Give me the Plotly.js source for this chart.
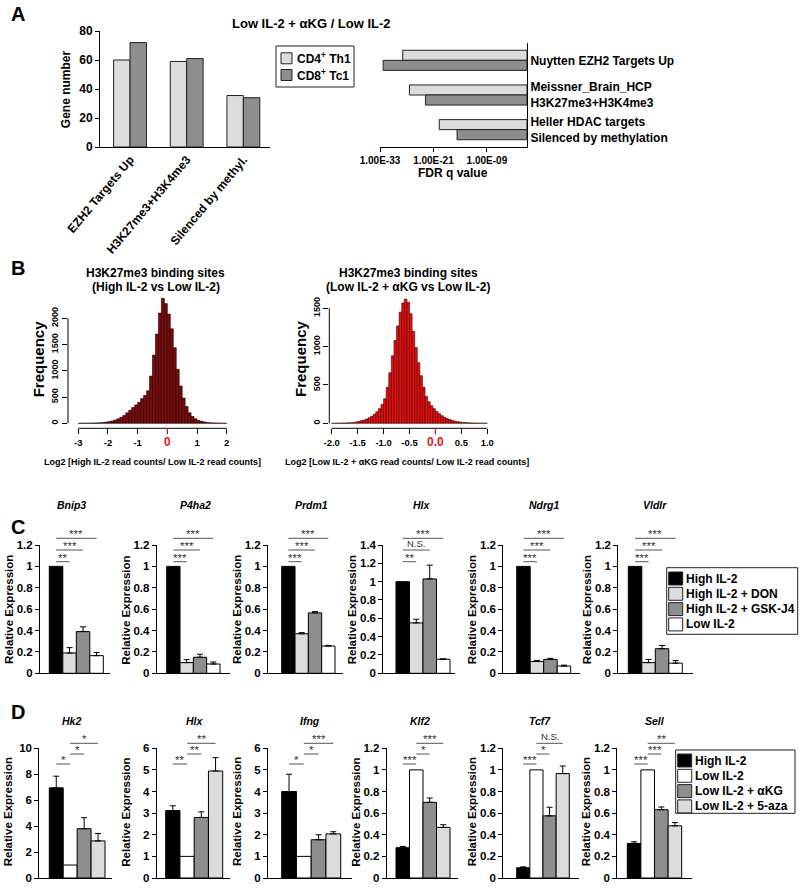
<!DOCTYPE html>
<html><head><meta charset="utf-8">
<script src="https://cdn.plot.ly/plotly-3.0.1.min.js"></script>
<style>html,body{margin:0;padding:0;background:#fff}#chart{width:800px;height:894px}</style>
</head><body><div id="chart"></div>
<script>
// ================= DATA =================
// Panel A (left): gene numbers
const geneSets = ['EZH2 Targets Up','H3K27me3+H3K4me3','Silenced by methyl.'];
const geneNumCD4 = [60, 59, 35.5];
const geneNumCD8 = [72, 61, 34];
// Panel A (right): FDR q values
const gseaSets = ['Nuytten EZH2 Targets Up','Meissner_Brain_HCP<br>H3K27me3+H3K4me3','Heller HDAC targets<br>Silenced by methylation'];
const fdrCD4 = [1.3e-28, 4e-27, 2e-20];
const fdrCD8 = [5e-33, 1.6e-23, 2e-16];
const fdrTickVals = [1e-33, 1e-21, 1e-9];
const fdrTickText = ['1.00E-33','1.00E-21','1.00E-09'];
const seriesNames = ['CD4<sup>+</sup> Th1','CD8<sup>+</sup> Tc1'];

// Panel B: histograms (bin start, bin width, counts)
const h1Start = -3.0, h1Width = 0.1;
const h1Counts = [1,1,2,3,4,6,8,11,16,23,32,45,62,85,115,150,200,250,300,350,400,470,530,620,900,1300,1700,2100,2380,2280,2080,1800,1440,1030,710,480,320,200,130,85,55,38,25,16,10,7,5,3,2,1];
const h2Start = -2.0, h2Width = 0.05;
const h2Counts = [1,1,2,2,3,4,6,8,12,18,25,33,43,56,72,92,118,150,190,245,320,470,660,880,1080,1270,1450,1570,1620,1580,1430,1200,990,790,620,470,350,280,230,190,155,125,100,80,62,48,37,28,21,16,12,9,7,5,4,3,2,2,1,1];
const h1Ticks = [-3,-2,-1,0,1,2];
const h2Ticks = [-2,-1.5,-1,-0.5,0,0.5,1];

// Panel C
const cGenes = ['Bnip3','P4ha2','Prdm1','Hlx','Ndrg1','Vldlr'];
const cConds = ['High IL-2','High IL-2 + DON','High IL-2 + GSK-J4','Low IL-2'];
const cHigh = [1,1,1,1,1,1];
const cHighErr = [0,0,0,0,0,0];
const cDON = [0.19,0.10,0.37,0.55,0.11,0.10];
const cDONErr = [0.05,0.028,0.01,0.04,0.01,0.03];
const cGSK = [0.39,0.15,0.565,1.03,0.13,0.23];
const cGSKErr = [0.045,0.028,0.012,0.15,0.01,0.03];
const cLow = [0.165,0.087,0.255,0.153,0.068,0.095];
const cLowErr = [0.03,0.019,0.006,0.005,0.008,0.025];
const cYMax = [1.2,1.2,1.2,1.4,1.2,1.2];
const cSig = [['**','***','***'],['***','***','***'],['***','***','***'],['**','N.S.','***'],['***','***','***'],['***','***','***']];
const cSigPairs = [[0,1],[0,2],[0,3]];

// Panel D
const dGenes = ['Hk2','Hlx','Ifng','Klf2','Tcf7','Sell'];
const dConds = ['High IL-2','Low IL-2','Low IL-2 + \u03b1KG','Low IL-2 + 5-aza'];
const dHigh = [6.95,3.12,4.0,0.28,0.095,0.32];
const dHighErr = [0.9,0.22,0.8,0.012,0.008,0.015];
const dLow = [1,1,1,1,1,1];
const dLowErr = [0,0,0,0,0,0];
const dAKG = [3.8,2.8,1.77,0.70,0.575,0.632];
const dAKGErr = [0.85,0.26,0.23,0.04,0.08,0.025];
const dAza = [2.86,4.95,2.04,0.468,0.966,0.483];
const dAzaErr = [0.57,0.62,0.1,0.025,0.07,0.03];
const dYMax = [10,6,6,1.2,1.2,1.2];
const dYStep = [2,1,1,0.2,0.2,0.2];
const dSig = [['*','*','*'],['**','**','**'],['*','*','***'],['***','*','***'],['***','*','N.S.'],['***','***','**']];
const dSigPairs = [[0,1],[1,2],[1,3]];

// ================= STYLE / GEOMETRY =================
const W = 800, H = 894;
const FONT = 'Liberation Sans, Arial, sans-serif';
const fx = p => p / W, fy = p => 1 - p / H;
const lin = (p0, v0, p1, v1, p) => v0 + (p - p0) * (v1 - v0) / (p1 - p0);
const LIGHT = '#dcdcdc', MID = '#8e8e8e', BLACK = '#000000', WHITE = '#ffffff';
const bfont = (size, color) => ({family: FONT, size: size, color: color || '#000', weight: 'bold'});

const traces = [];
const shapes = [];
const annotations = [];
const layout = {
  width: W, height: H, autosize: false,
  margin: {l: 0, r: 0, t: 0, b: 0, pad: 0},
  paper_bgcolor: '#fff', plot_bgcolor: 'rgba(0,0,0,0)',
  barmode: 'overlay', showlegend: false,
  font: {family: FONT, color: '#000'},
  shapes: shapes, annotations: annotations
};
function ann(x, y, text, font, extra) {
  annotations.push(Object.assign({xref: 'paper', yref: 'paper', x: fx(x), y: fy(y), text: text, showarrow: false, font: font, xanchor: 'center', yanchor: 'middle'}, extra || {}));
}
function rectPx(x0, y0, x1, y1, fill, lw) {
  shapes.push({type: 'rect', xref: 'paper', yref: 'paper', x0: fx(x0), x1: fx(x1), y0: fy(y1), y1: fy(y0),
    fillcolor: fill, line: {color: '#222', width: lw == null ? 1 : lw}, layer: 'above'});
}
// boxed legend: box [l,t,r,b], entries, first row centre, row step, square left/size, text x
function boxLegend(box, names, colors, cy0, step, sqL, sqW, sqH, textX, fsize) {
  rectPx(box[0], box[1], box[2], box[3], '#fff', 1);
  names.forEach((nm, i) => {
    const cy = cy0 + i * step;
    rectPx(sqL, cy - sqH / 2, sqL + sqW, cy + sqH / 2, colors[i], 1);
    ann(textX, cy, nm, bfont(fsize), {xanchor: 'left'});
  });
}

// Panel labels
ann(18, 14, 'A', bfont(20));
ann(18, 268, 'B', bfont(20));
ann(18, 527, 'C', bfont(20));
ann(18, 712, 'D', bfont(20));

// ---------- Panel A left ----------
const aColors = [LIGHT, MID];
[geneNumCD4, geneNumCD8].forEach((vals, k) => {
  traces.push({type: 'bar', x: geneSets, y: vals, xaxis: 'x', yaxis: 'y', name: seriesNames[k],
    offset: k === 0 ? -0.29 : 0, width: 0.29,
    marker: {color: aColors[k], line: {color: '#222', width: 1}}});
});
layout.xaxis = {domain: [fx(100), fx(270)], anchor: 'y', range: [-0.53, 2.47], showline: true, linecolor: '#000', linewidth: 1,
  ticks: '', tickangle: -50, tickfont: bfont(12), showgrid: false, zeroline: false};
layout.yaxis = {domain: [fy(147), fy(31)], anchor: 'x', range: [0, 80], tickvals: [0,20,40,60,80], ticks: 'outside', ticklen: 4,
  tickcolor: '#000', showline: true, linecolor: '#000', linewidth: 1, tickfont: bfont(12), showgrid: false, zeroline: false};
ann(66.7, 89.5, 'Gene number', bfont(12), {textangle: -90});
ann(311, 24, 'Low IL-2 + \u03b1KG / Low IL-2', bfont(13));
boxLegend([276, 46, 354, 87], seriesNames, aColors, 58.3, 16.7, 281, 11, 11, 295, 12);

// ---------- Panel A right ----------
[fdrCD4, fdrCD8].forEach((vals, k) => {
  traces.push({type: 'bar', orientation: 'h', y: gseaSets, x: vals.map(v => Math.log10(v)), xaxis: 'x2', yaxis: 'y2',
    offset: k === 0 ? -0.29 : 0, width: 0.29, name: seriesNames[k],
    marker: {color: aColors[k], line: {color: '#222', width: 1}}});
});
layout.xaxis2 = {domain: [fx(380), fx(527)], anchor: 'y2', range: [-33, 0], tickvals: fdrTickVals.map(v => Math.log10(v)), ticktext: fdrTickText,
  ticks: 'outside', ticklen: 4, tickcolor: '#000', showline: true, linecolor: '#000', tickfont: bfont(10), showgrid: false, zeroline: false};
layout.yaxis2 = {domain: [fy(147), fy(43)], anchor: 'x2', side: 'right', range: [2.5, -0.5], ticks: '', showline: true, linecolor: '#000',
  tickfont: bfont(12), showgrid: false, zeroline: false};
ann(453, 173, 'FDR q value', bfont(12));

// ---------- Panel B ----------
function hist(counts, start, width, xa, ya, color, lineColor) {
  traces.push({type: 'bar', x: counts.map((c, i) => start + (i + 0.5) * width), y: counts, width: width,
    xaxis: xa, yaxis: ya, marker: {color: color, line: {color: lineColor, width: 0.6}}});
}
hist(h1Counts, h1Start, h1Width, 'x3', 'y3', '#7d0a0a', '#1a0000');
hist(h2Counts, h2Start, h2Width, 'x4', 'y4', '#ee0d0d', '#3a0000');
const redZero = t => '<span style="color:#e8141e;font-size:12px">' + t + '</span>';
function histAxes(n, left, right, xv0, xp0, xv1, xp1, y0p, yv1, yp1, ticks, ticktext, yticks) {
  const top = 295, bottom = 428.3;
  layout['xaxis' + n] = {domain: [fx(left), fx(right)], anchor: 'y' + n,
    range: [lin(xp0, xv0, xp1, xv1, left), lin(xp0, xv0, xp1, xv1, right)],
    tickvals: ticks, ticktext: ticktext, ticks: 'outside', ticklen: 5, tickcolor: '#000', showline: false,
    tickfont: bfont(9.5), showgrid: false, zeroline: false};
  layout['yaxis' + n] = {domain: [fy(bottom), fy(top)], anchor: 'x' + n,
    range: [lin(y0p, 0, yp1, yv1, bottom), lin(y0p, 0, yp1, yv1, top)],
    tickvals: yticks, ticks: 'outside', ticklen: 5, tickcolor: '#000', showline: false, tickangle: -90,
    tickfont: bfont(9), showgrid: false, zeroline: false};
  shapes.push({type: 'line', xref: 'x' + n + ' domain', yref: 'y' + n, x0: 0, x1: 0, y0: 0, y1: yticks[yticks.length - 1], line: {color: '#000', width: 1}});
  shapes.push({type: 'line', xref: 'x' + n, yref: 'y' + n + ' domain', x0: ticks[0], x1: ticks[ticks.length - 1], y0: 0, y1: 0, line: {color: '#000', width: 1}});
  shapes.push({type: 'line', xref: 'x' + n, yref: 'y' + n + ' domain', x0: 0, x1: 0, y0: 0, y1: -5 / (bottom - top), line: {color: '#e8141e', width: 1.2}});
}
histAxes(3, 68, 232, -3, 78.3, 2, 226.7, 423.3, 2000, 318.3, h1Ticks, h1Ticks.map(v => v === 0 ? redZero('0') : String(v)), [0,500,1000,1500,2000]);
histAxes(4, 329.3, 492, -2, 331.7, 1, 487.3, 423.3, 1500, 308.3, h2Ticks, h2Ticks.map(v => v === 0 ? redZero('0.0') : v.toFixed(1)), [0,500,1000,1500]);
ann(155.8, 273, 'H3K27me3 binding sites', bfont(12));
ann(155.8, 287, '(High IL-2 vs Low IL-2)', bfont(12));
ann(408.3, 273, 'H3K27me3 binding sites', bfont(12));
ann(408.3, 287, '(Low IL-2 + \u03b1KG vs Low IL-2)', bfont(12));
ann(38.3, 359, 'Frequency', bfont(15), {textangle: -90});
ann(300, 359, 'Frequency', bfont(15), {textangle: -90});
ann(152, 462, 'Log2 [High IL-2 read counts/ Low IL-2 read counts]', bfont(9));
ann(406.7, 462, 'Log2 [Low IL-2 + \u03b1KG read counts/ Low IL-2 read counts]', bfont(9));

// ---------- Panels C & D ----------
function barPanel(cfg) {
  cfg.genes.forEach((gene, g) => {
    const n = cfg.axStart + g;
    const xa = 'x' + n, ya = 'y' + n;
    const bw = (cfg.barsEnd[g] - cfg.barsStart[g]) / 4;
    cfg.series.forEach((s, k) => {
      const e = s.err[g];
      traces.push({type: 'bar', x: [k], y: [s.vals[g]], width: 1, xaxis: xa, yaxis: ya, name: cfg.conds[k],
        marker: {color: cfg.colors[k], line: {color: '#000', width: 1}},
        error_y: {type: 'data', symmetric: false, array: [e], arrayminus: [0], visible: e > 0, color: '#000', thickness: 1, width: 3}});
    });
    const step = cfg.yStep[g], ymax = cfg.yMax[g];
    const tv = [];
    for (let v = 0; v <= ymax + 1e-9; v += step) tv.push(+v.toFixed(2));
    layout['xaxis' + n] = {domain: [fx(cfg.axisX[g]), fx(cfg.axisEnd[g])], anchor: ya,
      range: [-0.5 - (cfg.barsStart[g] - cfg.axisX[g]) / bw, -0.5 + (cfg.axisEnd[g] - cfg.barsStart[g]) / bw],
      showline: true, linecolor: '#000', linewidth: 1, ticks: '', showticklabels: false, showgrid: false, zeroline: false};
    layout['yaxis' + n] = {domain: [fy(cfg.bottom), fy(cfg.top)], anchor: xa, range: [0, ymax],
      tickvals: tv, ticktext: tv.map(v => String(v)), ticks: 'outside', ticklen: 4, tickcolor: '#000',
      showline: true, linecolor: '#000', linewidth: 1, tickfont: bfont(11.5), showgrid: false, zeroline: false};
    ann(cfg.titleX[g], cfg.titleY, '<i>' + gene + '</i>', bfont(10.5));
    ann(cfg.axisX[g] - 31, cfg.yTitleY, 'Relative Expression', bfont(11.5), {textangle: -90});
    cfg.sig[g].forEach((lab, l) => {
      const pr = cfg.pairs[l];
      const yp = cfg.levels[l];
      shapes.push({type: 'line', xref: xa, yref: 'paper', x0: pr[0], x1: pr[1], y0: fy(yp), y1: fy(yp), line: {color: '#555', width: 1}});
      const star = lab.indexOf('*') >= 0;
      annotations.push({xref: xa, yref: 'paper', x: (pr[0] + pr[1]) / 2, y: fy(yp + (star ? 4 : 0.5)), yanchor: 'bottom', xanchor: 'center',
        text: lab, showarrow: false, font: {family: FONT, size: star ? 11.5 : 9.5, color: '#333'}});
    });
  });
  boxLegend(cfg.legendBox, cfg.conds, cfg.colors, cfg.legendY0, cfg.legendStep, cfg.legendBox[0] + 2, 14, 13, cfg.legendTextX, 12);
}
barPanel({
  genes: cGenes, conds: cConds, axStart: 5,
  colors: [BLACK, LIGHT, MID, WHITE],
  series: [{vals: cHigh, err: cHighErr}, {vals: cDON, err: cDONErr}, {vals: cGSK, err: cGSKErr}, {vals: cLow, err: cLowErr}],
  axisX: [40,156.7,268,383.3,503.3,618.3], barsStart: [49.3,166.7,281.7,396,516.7,628.3],
  barsEnd: [103.3,220,335,450,570.7,682.3], axisEnd: [110,230,343,455,580,693.3],
  top: 545, bottom: 673.3, yMax: cYMax, yStep: [0.2,0.2,0.2,0.2,0.2,0.2],
  titleX: [71.7,195,311.7,421.7,543.5,655], titleY: 505, yTitleY: 610,
  sig: cSig, pairs: cSigPairs, levels: [561.7, 550, 538.3],
  legendBox: [666.7, 567.7, 797.7, 634.3], legendY0: 578.5, legendStep: 15.3, legendTextX: 684
});
barPanel({
  genes: dGenes, conds: dConds, axStart: 11,
  colors: [BLACK, WHITE, MID, LIGHT],
  series: [{vals: dHigh, err: dHighErr}, {vals: dLow, err: dLowErr}, {vals: dAKG, err: dAKGErr}, {vals: dAza, err: dAzaErr}],
  axisX: [39.3,156.7,268,386.7,503.3,617.3], barsStart: [49.3,165.7,281.7,396,516.7,627.3],
  barsEnd: [105,222.7,340.7,450,569.3,681.7], axisEnd: [111.7,230,351.7,458.3,579.3,691.7],
  top: 748.3, bottom: 878, yMax: dYMax, yStep: dYStep,
  titleX: [71.7,195,310,420,540,655], titleY: 721, yTitleY: 812,
  sig: dSig, pairs: dSigPairs, levels: [764, 754, 743.3],
  legendBox: [675.7, 750, 795, 813.3], legendY0: 760.5, legendStep: 15.3, legendTextX: 693
});

Plotly.newPlot('chart', traces, layout, {staticPlot: true, displayModeBar: false});
</script>
</body></html>
